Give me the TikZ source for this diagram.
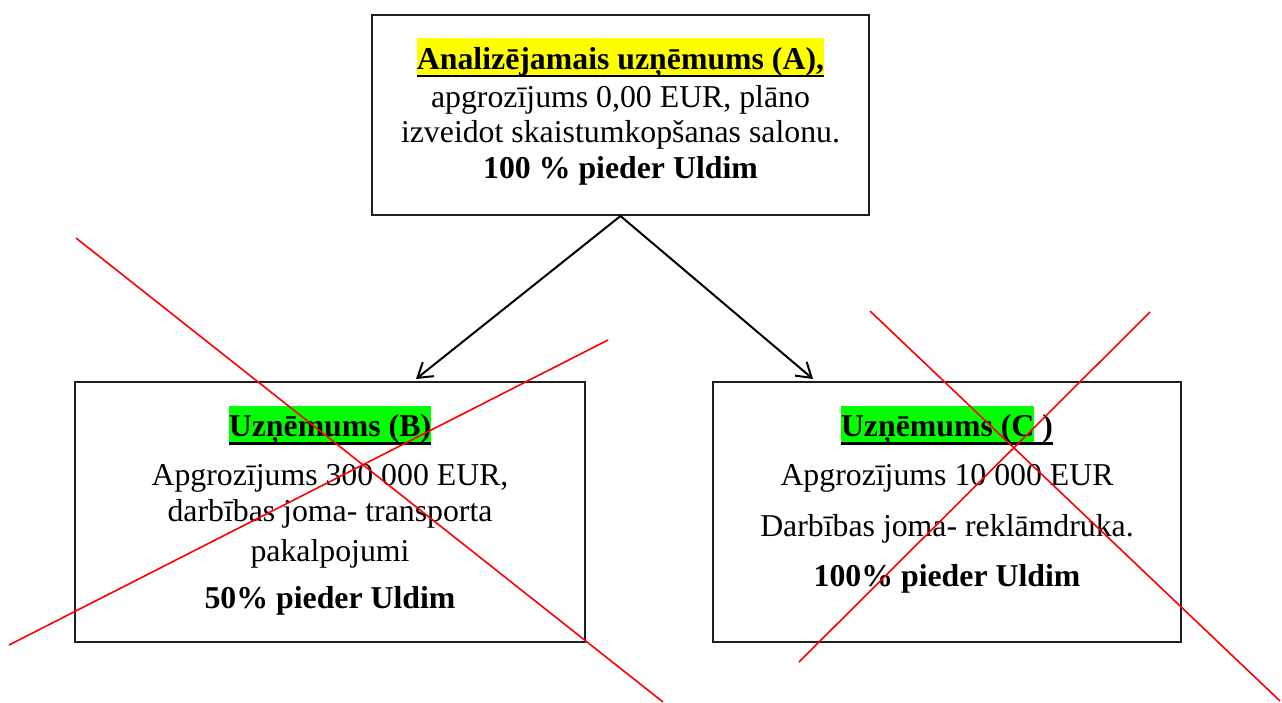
\documentclass[tikz,border=0pt]{standalone}
\usepackage{fontspec}
\setmainfont{Liberation Serif}
\usetikzlibrary{arrows.meta}
\definecolor{hlgreen}{RGB}{0,255,0}
\definecolor{hlyellow}{RGB}{255,255,0}
\definecolor{xred}{RGB}{255,0,0}
\newcommand\hlmark[2]{{\setlength\fboxsep{0pt}\colorbox{#1}{\rule[-6pt]{0pt}{37pt}#2}}}
\begin{document}
\begin{tikzpicture}[x=1pt,y=-1pt,
  box/.style={draw=black!88, line width=2pt, rectangle, inner sep=0pt},
  txt/.style={anchor=base, inner sep=0pt, font=\fontsize{31.8}{36}\selectfont},
  ttl/.style={txt, font=\fontsize{31.8}{36}\selectfont\bfseries},
  uline/.style={line width=2.4pt, black},
  arr/.style={line width=2pt, -{Straight Barb[length=14pt,width=18pt,line width=2pt]}},
  cross/.style={xred, line width=1.6pt}]
\useasboundingbox (0,0) rectangle (1282,702);
% boxes
\node[box, minimum width=497pt, minimum height=200pt] (A) at (620.5,115) {};
\node[box, minimum width=510pt, minimum height=260pt] (B) at (330,512) {};
\node[box, minimum width=468pt, minimum height=260pt] (C) at (947,512) {};
% A texts
\node[ttl] (tA) at (620.5,69) {\hlmark{hlyellow}{Analizējamais uzņēmums (A),}};
\draw[uline] ([yshift=1.3pt]tA.south west) -- ([yshift=1.3pt]tA.south east);
\node[txt] (a2) at (620.5,107) {apgrozījums 0,00 EUR, plāno};
\node[txt] (a3) at (620.5,142.5) {izveidot skaistumkopšanas salonu.};
\node[ttl] (a4) at (620.5,178) {100 \% pieder Uldim};
% B texts
\node[ttl] (tB) at (330,436.5) {\hlmark{hlgreen}{Uzņēmums (B)}};
\draw[uline] ([yshift=1.3pt]tB.south west) -- ([yshift=1.3pt]tB.south east);
\node[txt] (b2) at (330,485) {Apgrozījums 300 000 EUR,};
\node[txt] (b3) at (330,521.5) {darbības joma- transporta};
\node[txt] (b4) at (330,561) {pakalpojumi};
\node[ttl] (b5) at (330,608) {50\% pieder Uldim};
% C texts
\node[ttl] (tC) at (947,436.5) {\hlmark{hlgreen}{Uzņēmums (C} )};
\draw[uline] ([yshift=1.3pt]tC.south west) -- ([yshift=1.3pt]tC.south east);
\node[txt] (c2) at (947,485.5) {Apgrozījums 10 000 EUR};
\node[txt] (c3) at (947,536.5) {Darbības joma- reklāmdruka.};
\node[ttl] (c4) at (947,586.5) {100\% pieder Uldim};
% connectors
\coordinate (tipB) at (416,379);
\coordinate (tipC) at (813,379);
\draw[arr] (A.south) -- (tipB);
\draw[arr] (A.south) -- (tipC);
% red crosses
\coordinate (r1a) at (76,238);  \coordinate (r1b) at (663,702);
\coordinate (r2a) at (9,645);   \coordinate (r2b) at (608,340);
\coordinate (r3a) at (870,311); \coordinate (r3b) at (1280,701);
\coordinate (r4a) at (799,662); \coordinate (r4b) at (1150,312);
\draw[cross] (r1a) -- (r1b);
\draw[cross] (r2a) -- (r2b);
\draw[cross] (r3a) -- (r3b);
\draw[cross] (r4a) -- (r4b);
\end{tikzpicture}
\end{document}
